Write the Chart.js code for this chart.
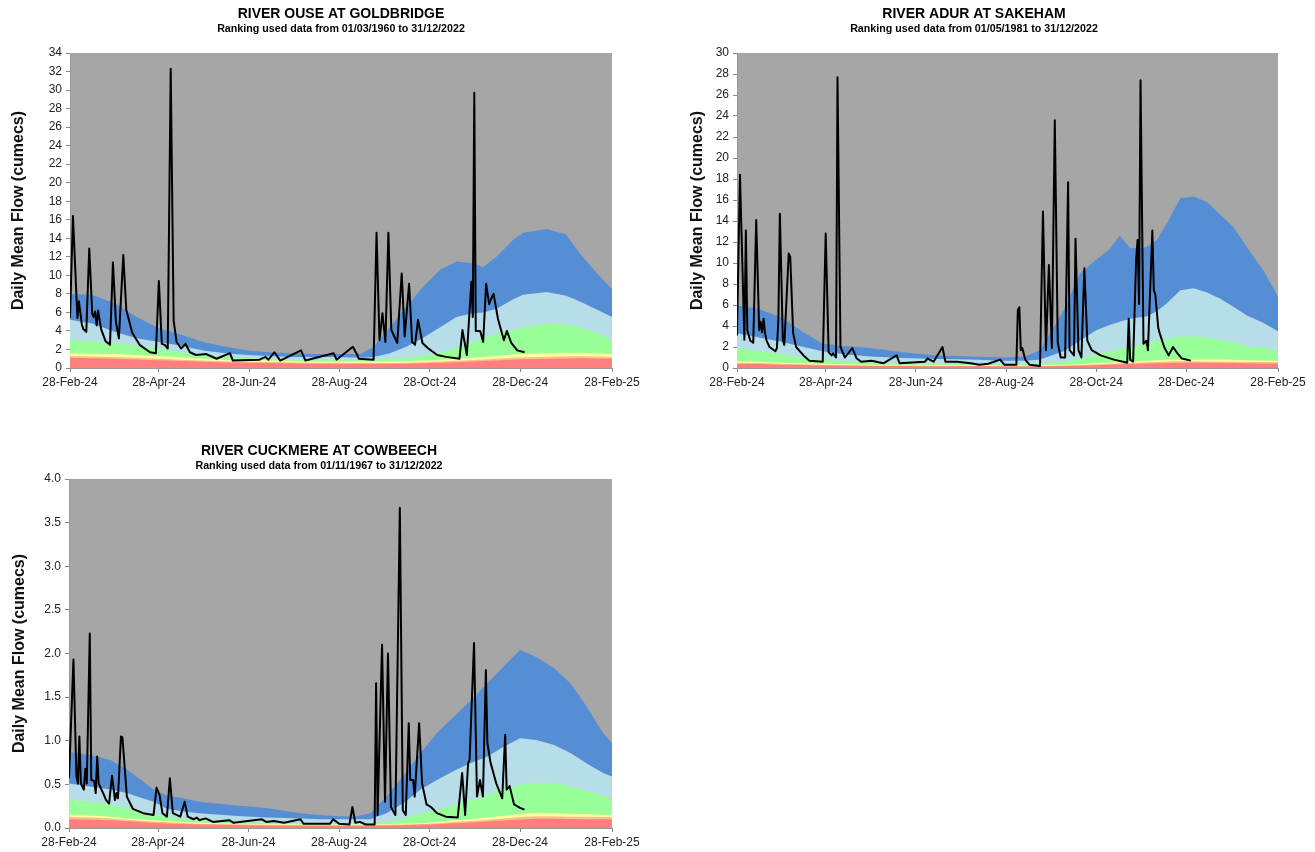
<!DOCTYPE html>
<html>
<head>
<meta charset="utf-8">
<script src="https://cdn.jsdelivr.net/npm/chart.js@4.4.0/dist/chart.umd.min.js"></script>
<style>
  body { margin: 0; background: #fff; width: 1315px; height: 852px; position: relative; overflow: hidden; }
  .box { position: absolute; }
</style>
</head>
<body>
<div class="box" style="left:0;top:0;width:660px;height:400px"><canvas id="ouseChart"></canvas></div>
<div class="box" style="left:660px;top:0;width:655px;height:400px"><canvas id="adurChart"></canvas></div>
<div class="box" style="left:0;top:440px;width:660px;height:412px"><canvas id="cuckmereChart"></canvas></div>
<script>
// x axis: days since 28-Feb-24
const tickDays = [0, 60, 121, 182, 243, 304, 366];
const tickLabels = ["28-Feb-24", "28-Apr-24", "28-Jun-24", "28-Aug-24", "28-Oct-24", "28-Dec-24", "28-Feb-25"];

// ---- River Ouse at Goldbridge ----
const ouseBandDays = [0, 15, 30, 45, 60, 75, 90, 105, 120, 135, 150, 165, 180, 196, 205, 216, 227, 238, 250, 261, 272, 279, 288, 299, 306, 322, 335, 344, 356, 366];
const ouseRed = [1.1, 1.05, 1.0, 0.92, 0.85, 0.76, 0.68, 0.6, 0.56, 0.53, 0.5, 0.47, 0.46, 0.45, 0.45, 0.45, 0.47, 0.5, 0.56, 0.63, 0.7, 0.75, 0.82, 0.9, 0.94, 1.0, 1.03, 1.05, 1.03, 1.0];
const ouseOrange = [1.3, 1.25, 1.2, 1.1, 1.0, 0.9, 0.8, 0.72, 0.68, 0.64, 0.6, 0.57, 0.56, 0.55, 0.55, 0.55, 0.58, 0.62, 0.7, 0.78, 0.86, 0.92, 1.0, 1.1, 1.15, 1.22, 1.26, 1.27, 1.25, 1.2];
const ouseYellow = [1.6, 1.55, 1.5, 1.4, 1.3, 1.15, 1.0, 0.9, 0.85, 0.8, 0.75, 0.7, 0.7, 0.7, 0.7, 0.7, 0.75, 0.8, 0.9, 1.0, 1.1, 1.2, 1.3, 1.45, 1.5, 1.6, 1.65, 1.65, 1.6, 1.5];
const ouseGreen = [3.0, 2.9, 2.7, 2.4, 2.1, 1.7, 1.4, 1.2, 1.1, 1.0, 0.95, 0.9, 0.9, 0.9, 0.9, 1.0, 1.1, 1.3, 1.7, 2.2, 2.8, 3.2, 3.7, 4.1, 4.4, 4.8, 4.7, 4.4, 3.8, 3.0];
const ouseLightBlue = [5.2, 4.8, 3.9, 3.2, 2.8, 2.4, 1.9, 1.6, 1.4, 1.3, 1.2, 1.2, 1.2, 1.1, 1.2, 1.6, 2.3, 3.2, 4.4, 5.5, 5.9, 6.0, 6.4, 7.4, 7.9, 8.2, 7.8, 7.2, 6.3, 5.5];
const ouseBlue = [8.0, 7.9, 7.0, 5.5, 4.3, 3.6, 2.8, 2.3, 1.9, 1.7, 1.6, 1.5, 1.5, 1.5, 2.3, 4.4, 6.6, 8.7, 10.6, 11.5, 11.3, 10.9, 12.0, 13.8, 14.6, 15.0, 14.4, 12.4, 10.2, 8.5];
const ouseFlow = [
  [0, 5.4], [2, 16.4], [5, 5.4], [6, 7.2], [8, 4.7], [9, 4.2], [11, 3.9], [13, 12.9], [15, 5.9], [16, 5.5],
  [17, 6.1], [18, 4.6], [19, 6.2], [21, 4.2], [24, 2.9], [27, 2.5], [29, 11.4], [31, 5.0], [33, 3.2], [36, 12.2],
  [38, 6.3], [42, 3.8], [47, 2.5], [54, 1.7], [58, 1.6], [60, 9.4], [62, 2.6], [64, 2.5], [66, 2.1], [68, 32.3],
  [70, 5.1], [72, 2.8], [75, 2.1], [78, 2.6], [81, 1.7], [85, 1.4], [92, 1.5], [99, 1.0], [108, 1.6], [110, 0.8],
  [128, 0.9], [132, 1.2], [134, 0.9], [138, 1.7], [142, 0.8], [156, 1.9], [159, 0.8], [178, 1.6], [180, 0.9], [191, 2.3],
  [194, 1.4], [195, 1.0], [205, 0.9], [207, 14.6], [209, 3.0], [211, 5.9], [213, 2.8], [215, 14.6], [217, 4.1], [221, 2.7],
  [224, 10.2], [226, 3.4], [229, 9.1], [231, 2.8], [233, 2.5], [235, 5.2], [238, 2.7], [242, 2.1], [248, 1.4], [254, 1.2],
  [263, 1.0], [265, 4.1], [268, 1.4], [271, 9.3], [272, 5.5], [273, 29.7], [274, 4.0], [277, 4.0], [279, 2.8], [281, 9.1],
  [283, 6.9], [285, 7.7], [286, 8.0], [289, 5.3], [293, 3.0], [295, 4.0], [298, 2.7], [302, 1.9], [307, 1.7]
];

// ---- River Adur at Sakeham ----
const adurBandDays = [0, 15, 30, 45, 58, 72, 90, 112, 135, 158, 180, 195, 205, 221, 232, 243, 252, 259, 266, 277, 284, 291, 300, 309, 318, 327, 336, 345, 356, 366];
const adurRed = [0.4, 0.37, 0.32, 0.28, 0.25, 0.22, 0.2, 0.18, 0.17, 0.16, 0.15, 0.15, 0.16, 0.18, 0.22, 0.27, 0.32, 0.35, 0.38, 0.42, 0.45, 0.48, 0.5, 0.5, 0.49, 0.48, 0.47, 0.45, 0.44, 0.43];
const adurOrange = [0.5, 0.47, 0.4, 0.36, 0.32, 0.28, 0.25, 0.23, 0.22, 0.2, 0.19, 0.19, 0.2, 0.23, 0.28, 0.35, 0.41, 0.45, 0.48, 0.55, 0.58, 0.62, 0.64, 0.64, 0.63, 0.62, 0.6, 0.58, 0.56, 0.55];
const adurYellow = [0.65, 0.6, 0.5, 0.45, 0.4, 0.35, 0.32, 0.3, 0.28, 0.26, 0.25, 0.25, 0.26, 0.3, 0.36, 0.45, 0.53, 0.58, 0.62, 0.7, 0.75, 0.8, 0.82, 0.82, 0.8, 0.8, 0.78, 0.75, 0.72, 0.7];
const adurGreen = [1.9, 1.6, 1.3, 1.0, 0.8, 0.65, 0.55, 0.45, 0.42, 0.4, 0.38, 0.38, 0.4, 0.6, 0.9, 1.3, 1.6, 1.8, 2.0, 2.4, 2.6, 2.8, 3.0, 3.0, 2.9, 2.7, 2.4, 2.1, 1.9, 1.7];
const adurLightBlue = [3.3, 2.9, 2.5, 2.0, 1.6, 1.3, 1.1, 0.95, 0.85, 0.8, 0.7, 0.7, 0.8, 1.6, 2.6, 3.6, 4.1, 4.4, 4.7, 4.9, 5.4, 6.2, 7.4, 7.6, 7.2, 6.6, 5.8, 5.0, 4.3, 3.5];
const adurBlue = [6.0, 5.6, 4.8, 3.4, 2.3, 2.1, 1.9, 1.5, 1.2, 1.1, 1.0, 1.1, 1.7, 5.5, 9.0, 10.3, 11.3, 12.6, 11.4, 11.5, 12.2, 13.8, 16.2, 16.3, 15.8, 14.6, 13.4, 11.5, 9.3, 6.8];
const adurFlow = [
  [0, 3.1], [2, 18.4], [5, 2.7], [6, 13.1], [7, 3.6], [9, 2.6], [11, 2.4], [13, 14.1], [15, 3.6], [16, 4.4],
  [17, 3.4], [18, 4.7], [19, 3.3], [20, 2.6], [22, 2.0], [26, 1.6], [27, 1.9], [28, 4.6], [29, 14.7], [31, 2.7],
  [32, 2.2], [35, 10.9], [36, 10.6], [38, 3.3], [40, 2.0], [45, 1.2], [49, 0.7], [58, 0.6], [60, 12.8], [62, 1.5],
  [64, 1.2], [65, 1.4], [67, 1.0], [68, 27.7], [70, 2.0], [73, 1.0], [78, 1.9], [81, 0.9], [84, 0.6], [91, 0.7],
  [99, 0.45], [108, 1.2], [110, 0.45], [127, 0.6], [129, 0.9], [133, 0.6], [139, 2.0], [141, 0.6], [149, 0.6], [158, 0.45],
  [164, 0.3], [170, 0.4], [178, 0.8], [181, 0.3], [189, 0.3], [190, 5.5], [191, 5.8], [192, 1.7], [193, 1.9], [195, 0.8],
  [198, 0.3], [205, 0.2], [207, 14.9], [209, 1.7], [211, 9.8], [213, 1.9], [215, 23.6], [217, 2.4], [219, 1.0], [222, 1.0],
  [224, 17.7], [225, 1.7], [228, 1.2], [229, 12.3], [231, 1.7], [233, 1.0], [235, 9.5], [237, 2.6], [240, 1.7], [246, 1.2],
  [255, 0.8], [264, 0.5], [265, 4.7], [266, 0.8], [268, 0.6], [270, 10.3], [271, 12.2], [272, 6.1], [273, 27.4], [275, 2.3],
  [277, 2.6], [278, 1.7], [281, 13.1], [282, 7.4], [283, 7.0], [285, 3.8], [286, 3.3], [289, 2.0], [292, 1.2], [295, 2.0],
  [298, 1.4], [301, 0.9], [307, 0.7]
];

// ---- River Cuckmere at Cowbeech ----
const cuckBandDays = [0, 16, 28, 39, 48, 57, 66, 77, 88, 111, 133, 156, 169, 176, 192, 203, 214, 225, 237, 248, 259, 270, 282, 293, 304, 315, 327, 338, 349, 360, 366];
const cuckRed = [0.1, 0.095, 0.088, 0.078, 0.07, 0.06, 0.053, 0.046, 0.04, 0.034, 0.03, 0.026, 0.025, 0.025, 0.025, 0.025, 0.028, 0.032, 0.036, 0.044, 0.055, 0.063, 0.075, 0.087, 0.097, 0.105, 0.105, 0.102, 0.1, 0.1, 0.1];
const cuckOrange = [0.125, 0.12, 0.11, 0.095, 0.085, 0.075, 0.066, 0.058, 0.05, 0.042, 0.037, 0.033, 0.032, 0.032, 0.032, 0.032, 0.036, 0.04, 0.045, 0.055, 0.07, 0.08, 0.095, 0.11, 0.125, 0.135, 0.135, 0.13, 0.13, 0.125, 0.125];
const cuckYellow = [0.15, 0.14, 0.13, 0.11, 0.1, 0.09, 0.08, 0.07, 0.06, 0.05, 0.045, 0.04, 0.04, 0.04, 0.04, 0.04, 0.045, 0.05, 0.055, 0.07, 0.09, 0.1, 0.12, 0.14, 0.16, 0.17, 0.17, 0.16, 0.16, 0.15, 0.15];
const cuckGreen = [0.32, 0.3, 0.27, 0.23, 0.19, 0.16, 0.13, 0.11, 0.09, 0.07, 0.06, 0.055, 0.05, 0.05, 0.05, 0.06, 0.07, 0.11, 0.17, 0.21, 0.26, 0.31, 0.38, 0.44, 0.5, 0.52, 0.51, 0.48, 0.42, 0.37, 0.34];
const cuckLightBlue = [0.51, 0.47, 0.44, 0.4, 0.35, 0.3, 0.22, 0.19, 0.17, 0.14, 0.12, 0.11, 0.1, 0.1, 0.1, 0.1, 0.17, 0.28, 0.44, 0.55, 0.65, 0.74, 0.82, 0.93, 1.03, 1.01, 0.95, 0.86, 0.74, 0.63, 0.59];
const cuckBlue = [0.87, 0.83, 0.78, 0.67, 0.56, 0.44, 0.37, 0.34, 0.3, 0.26, 0.23, 0.17, 0.15, 0.14, 0.13, 0.17, 0.36, 0.59, 0.86, 1.09, 1.27, 1.45, 1.66, 1.85, 2.04, 1.96, 1.83, 1.66, 1.39, 1.09, 0.97];
const cuckFlow = [
  [0, 0.57], [3, 1.93], [5, 0.59], [6, 0.51], [7, 1.05], [8, 0.51], [10, 0.44], [11, 0.68], [12, 0.51], [14, 2.23],
  [15, 0.55], [17, 0.54], [18, 0.4], [19, 0.82], [20, 0.51], [23, 0.4], [25, 0.32], [27, 0.28], [29, 0.6], [31, 0.32],
  [32, 0.4], [33, 0.34], [35, 1.05], [36, 1.04], [39, 0.36], [43, 0.22], [50, 0.17], [57, 0.15], [59, 0.46], [61, 0.38],
  [63, 0.17], [66, 0.13], [68, 0.57], [70, 0.17], [75, 0.13], [78, 0.3], [80, 0.13], [84, 0.1], [86, 0.12], [88, 0.09],
  [92, 0.11], [97, 0.07], [108, 0.09], [111, 0.06], [130, 0.1], [133, 0.07], [138, 0.08], [145, 0.06], [156, 0.1], [158, 0.05],
  [176, 0.05], [178, 0.1], [182, 0.05], [189, 0.04], [191, 0.24], [193, 0.06], [196, 0.07], [200, 0.04], [206, 0.04], [207, 1.66],
  [208, 0.15], [211, 2.1], [213, 0.3], [215, 2.0], [217, 0.24], [220, 0.15], [223, 3.67], [225, 0.2], [227, 0.15], [229, 1.2],
  [230, 0.55], [232, 0.55], [233, 0.36], [236, 1.2], [238, 0.51], [241, 0.27], [244, 0.24], [248, 0.17], [254, 0.13], [262, 0.12],
  [265, 0.63], [267, 0.15], [269, 0.74], [270, 0.78], [273, 2.12], [275, 0.36], [277, 0.55], [279, 0.36], [281, 1.81], [282, 0.98],
  [284, 0.76], [288, 0.51], [292, 0.34], [294, 1.07], [295, 0.44], [297, 0.48], [300, 0.27], [304, 0.23], [307, 0.21]
];

const bandColors = {
  red: "#ff7f80",
  orange: "#fbbf8f",
  yellow: "#ffff99",
  green: "#99ff99",
  lightBlue: "#b7dde8",
  blue: "#558ed5",
};

Chart.defaults.font.family = '"Liberation Sans", Arial, sans-serif';
Chart.defaults.font.size = 12;
Chart.defaults.color = "#222";

const plotBackground = {
  id: "plotBackground",
  beforeDraw(chart, args, opts) {
    const { ctx, chartArea } = chart;
    ctx.save();
    ctx.fillStyle = opts.color;
    ctx.fillRect(chartArea.left, chartArea.top, chartArea.width, chartArea.height);
    ctx.restore();
  },
};

const riverTitle = {
  id: "riverTitle",
  afterDraw(chart, args, opts) {
    const ctx = chart.ctx;
    ctx.save();
    ctx.fillStyle = "#000";
    ctx.textAlign = "center";
    ctx.textBaseline = "middle";
    ctx.font = 'bold 14px "Liberation Sans", Arial, sans-serif';
    ctx.fillText(opts.text, opts.x, opts.y);
    ctx.font = 'bold 10.7px "Liberation Sans", Arial, sans-serif';
    ctx.fillText(opts.sub, opts.x, opts.y + 15);
    ctx.restore();
  },
};

function toPoints(days, values) {
  return days.map((d, i) => ({ x: d, y: values[i] }));
}

function band(days, values, color) {
  return {
    data: toPoints(days, values),
    backgroundColor: color,
    borderWidth: 0,
    pointRadius: 0,
    fill: "origin",
    tension: 0,
  };
}

function FlowChart(canvasId, title, subtitle, flow, bandDays, bands, yMax, yStep, decimals, box) {
  const config = {
    type: "line",
    data: {
      datasets: [
        {
          data: flow.map((p) => ({ x: p[0], y: p[1] })),
          borderColor: "#000",
          borderWidth: 2,
          borderJoinStyle: "round",
          pointRadius: 0,
          fill: false,
          tension: 0,
        },
        band(bandDays, bands.red, bandColors.red),
        band(bandDays, bands.orange, bandColors.orange),
        band(bandDays, bands.yellow, bandColors.yellow),
        band(bandDays, bands.green, bandColors.green),
        band(bandDays, bands.lightBlue, bandColors.lightBlue),
        band(bandDays, bands.blue, bandColors.blue),
      ],
    },
    options: {
      responsive: true,
      maintainAspectRatio: false,
      animation: false,
      layout: {
        padding: { left: 0, right: box.right, top: box.top, bottom: 0 },
      },
      scales: {
        x: {
          type: "linear",
          min: 0,
          max: 366,
          afterBuildTicks: (scale) => {
            scale.ticks = tickDays.map((v) => ({ value: v }));
          },
          afterFit: (scale) => {
            scale.height = box.xHeight;
          },
          ticks: {
            autoSkip: false,
            maxRotation: 0,
            minRotation: 0,
            padding: 3,
            callback: (value, index) => tickLabels[index],
          },
          grid: { drawOnChartArea: false, tickLength: 4, color: "#888" },
          border: { color: "#999" },
        },
        y: {
          min: 0,
          max: yMax,
          afterFit: (scale) => {
            scale.width = box.yWidth;
          },
          ticks: {
            stepSize: yStep,
            padding: 4,
            callback: (value) => value.toFixed(decimals),
          },
          grid: { drawOnChartArea: false, tickLength: 4, color: "#888" },
          border: { color: "#999" },
          title: {
            display: true,
            text: "Daily Mean Flow (cumecs)",
            color: "#111",
            font: { size: 16, weight: "bold" },
            padding: { top: box.titlePad, bottom: 0 },
          },
        },
      },
      plugins: {
        legend: { display: false },
        tooltip: { enabled: false },
        plotBackground: { color: "#a6a6a6" },
        riverTitle: { text: title, sub: subtitle, x: box.titleX, y: box.titleY },
      },
    },
    plugins: [plotBackground, riverTitle],
  };

  const canvas = document.getElementById(canvasId);
  const ctx = canvas.getContext("2d");
  return new Chart(ctx, config);
}

FlowChart(
  "ouseChart",
  "RIVER OUSE AT GOLDBRIDGE",
  "Ranking used data from 01/03/1960 to 31/12/2022",
  ouseFlow,
  ouseBandDays,
  { red: ouseRed, orange: ouseOrange, yellow: ouseYellow, green: ouseGreen, lightBlue: ouseLightBlue, blue: ouseBlue },
  34, 2, 0,
  { right: 48, top: 53, xHeight: 32, yWidth: 70, titlePad: 9, titleX: 341, titleY: 14 }
);

FlowChart(
  "adurChart",
  "RIVER ADUR AT SAKEHAM",
  "Ranking used data from 01/05/1981 to 31/12/2022",
  adurFlow,
  adurBandDays,
  { red: adurRed, orange: adurOrange, yellow: adurYellow, green: adurGreen, lightBlue: adurLightBlue, blue: adurBlue },
  30, 2, 0,
  { right: 37, top: 53, xHeight: 32, yWidth: 77, titlePad: 28, titleX: 314, titleY: 14 }
);

FlowChart(
  "cuckmereChart",
  "RIVER CUCKMERE AT COWBEECH",
  "Ranking used data from 01/11/1967 to 31/12/2022",
  cuckFlow,
  cuckBandDays,
  { red: cuckRed, orange: cuckOrange, yellow: cuckYellow, green: cuckGreen, lightBlue: cuckLightBlue, blue: cuckBlue },
  4, 0.5, 1,
  { right: 48, top: 39, xHeight: 24, yWidth: 69, titlePad: 10, titleX: 319, titleY: 11 }
);
</script>
</body>
</html>
